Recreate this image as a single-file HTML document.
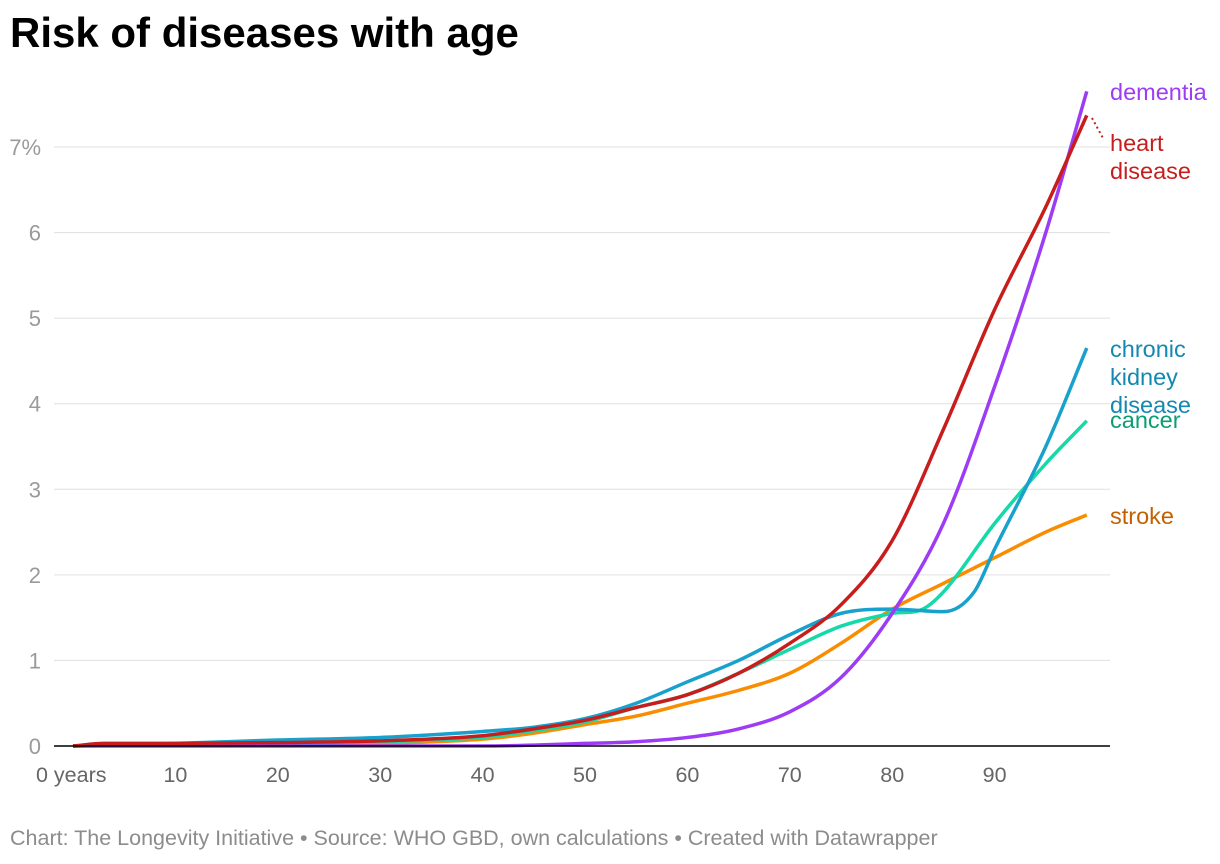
<!DOCTYPE html>
<html><head><meta charset="utf-8"><style>
body{margin:0;background:#fff;width:1220px;height:864px;overflow:hidden;font-family:"Liberation Sans",sans-serif}
h1{position:absolute;left:10px;top:9px;margin:0;font-size:42px;font-weight:bold;color:#000;letter-spacing:0}
.foot{position:absolute;left:10px;top:826px;font-size:21.5px;color:#8c8c8c}
</style></head><body>
<h1>Risk of diseases with age</h1>
<svg id="c" width="1220" height="864" style="position:absolute;left:0;top:0"></svg>
<div class="foot">Chart: The Longevity Initiative • Source: WHO GBD, own calculations • Created with Datawrapper</div>
<script>
const yTicks=[0,1,2,3,4,5,6,7];
const xTicks=[0,10,20,30,40,50,60,70,80,90];
const demAges=[0,40,45,50,55,60,65,70,75,80,85,90,95,99];
const demVals=[0,0,0.01,0.03,0.05,0.1,0.2,0.4,0.8,1.55,2.6,4.2,6.0,7.65];
const heartAges=[0,3,10,20,30,40,45,50,55,60,65,70,75,80,85,90,95,99];
const heartVals=[0,0.03,0.03,0.04,0.06,0.12,0.2,0.3,0.45,0.6,0.85,1.2,1.65,2.4,3.7,5.1,6.3,7.37];
const ckdAges=[0,10,20,30,40,45,50,55,60,65,70,75,80,85,88,90,95,99];
const ckdVals=[0,0.03,0.07,0.1,0.17,0.22,0.32,0.5,0.75,1.0,1.3,1.55,1.6,1.57,1.8,2.3,3.5,4.65];
const cancerAges=[0,10,20,30,40,45,50,55,60,65,70,75,80,83,85,90,95,99];
const cancerVals=[0,0.02,0.03,0.05,0.1,0.18,0.28,0.45,0.6,0.85,1.13,1.4,1.55,1.6,1.8,2.6,3.3,3.8];
const strokeAges=[0,20,30,40,45,50,55,60,65,70,75,80,85,90,95,99];
const strokeVals=[0,0.02,0.03,0.08,0.15,0.25,0.35,0.5,0.65,0.85,1.2,1.6,1.9,2.2,2.5,2.7];
const NS='http://www.w3.org/2000/svg';
const svg=document.getElementById('c');
const X=a=>73+a*10.24, Y=v=>746-v*85.57;
function mk(t,at){const e=document.createElementNS(NS,t);for(const k in at)e.setAttribute(k,at[k]);svg.appendChild(e);return e;}
yTicks.forEach(v=>{
 if(v>0){const g=mk('line',{x1:54,x2:1110,y1:Y(v),y2:Y(v),stroke:'#e0e0e0','stroke-width':1});
 
 }
 const t=mk('text',{x:41,y:Y(v)+8,'font-size':22,fill:'#9a9a9a','text-anchor':'end'});
 t.textContent=v==7?'7%':String(v);
 
 
});
xTicks.forEach(a=>{
 const t=mk('text',{x:a==0?36:X(a),y:782,'font-size':21.5,fill:'#666','text-anchor':a==0?'start':'middle'});
 t.textContent=a==0?'0 years':String(a);
 
 
});
function path(xs,ys){
 const n=xs.length,px=xs.map(X),py=ys.map(Y);const d=[],m=[];
 for(let i=0;i<n-1;i++)d.push((py[i+1]-py[i])/(px[i+1]-px[i]));
 for(let i=0;i<n;i++){if(i==0)m.push(d[0]);else if(i==n-1)m.push(d[n-2]);else m.push(d[i-1]*d[i]<=0?0:(d[i-1]+d[i])/2);}
 let s='M'+px[0]+','+py[0];
 for(let i=0;i<n-1;i++){const h=(px[i+1]-px[i])/3;s+=' C'+(px[i]+h)+','+(py[i]+m[i]*h)+' '+(px[i+1]-h)+','+(py[i+1]-m[i+1]*h)+' '+px[i+1]+','+py[i+1];}
 return s;
}
const series=[
 ['stroke',strokeAges,strokeVals,'#fa8c00'],
 ['cancer',cancerAges,cancerVals,'#15d9a8'],
 ['chronic-kidney-disease',ckdAges,ckdVals,'#18a1cd'],
 ['dementia',demAges,demVals,'#9d3cf5'],
 ['heart-disease',heartAges,heartVals,'#c71e1d']];
series.forEach(s=>{
 const p=mk('path',{d:path(s[1],s[2]),fill:'none',stroke:s[3],'stroke-width':3.5,'stroke-linejoin':'round'});
 
 
});
mk('line',{x1:54,x2:1110,y1:746,y2:746,stroke:'#000','stroke-width':1.5});
mk('line',{x1:1092,y1:118,x2:1104,y2:140,stroke:'#c71e1d','stroke-width':2,'stroke-dasharray':'2,3'});
const labels=[[100,'dementia','#9d3cf5'],[151,'heart',"#c71e1d"],[179,'disease','#c71e1d'],[357,'chronic','#1488b0'],[385,'kidney','#1488b0'],[413,'disease','#1488b0'],[428,'cancer','#0a9f73'],[524,'stroke','#c36000']];
labels.forEach(l=>{
 const t=mk('text',{x:1110,y:l[0],'font-size':23.5,fill:l[2]});
 t.textContent=l[1];
 
 
});
</script>
</body></html>
